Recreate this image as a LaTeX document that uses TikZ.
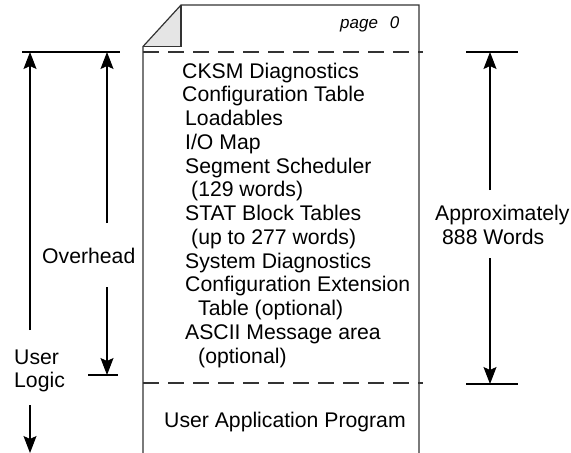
\documentclass[tikz,border=0pt]{standalone}
\usepackage{fontspec}
\setmainfont{Liberation Sans}
\usetikzlibrary{arrows.meta}
\begin{document}
\begin{tikzpicture}[x=1pt,y=-1pt,
  txt/.style={anchor=base west,inner sep=0pt,font=\fontsize{21.2}{23}\selectfont},
  pagetxt/.style={anchor=base west,inner sep=0pt,font=\fontsize{17}{20}\selectfont\itshape},
  edge/.style={line width=1.2pt,black!80},
  sepline/.style={line width=1.1pt,dash pattern=on 16pt off 9pt,black!80},
  tick/.style={line width=1.1pt},
  arr/.style={line width=1.1pt,-{Stealth[length=17pt,width=13pt,inset=3pt]}},
  bar/.style={line width=2.6pt}]
\useasboundingbox (0,0) rectangle (571,453);
% page outline
\coordinate (fa) at (181,5);
\coordinate (fb) at (181,46.5);
\coordinate (fc) at (143,46.5);
\coordinate (tr) at (419,5);
\coordinate (br) at (419,453);
\coordinate (bl) at (143,453);
\fill[black!10] (fa) -- (fb) -- (fc) -- cycle;
\draw[edge] (fa) -- (fb) -- (fc);
\draw[edge] (bl) -- (fc) -- (fa) -- (tr) -- (br);
% dashed separators
\coordinate (d1a) at (143,52);
\coordinate (d1b) at (423,52);
\coordinate (d2a) at (143,383);
\coordinate (d2b) at (423,383);
\draw[sepline] (d1a) -- (d1b);
\draw[sepline] (d2a) -- (d2b);
% page label
\node[pagetxt] (pg) at (340,28) {page\hspace{12pt}0};
% content
\node[txt] (l0) at (182,78) {CKSM Diagnostics};
\node[txt] (l1) at (182,101.75) {Configuration Table};
\node[txt] (l2) at (185,125.5) {Loadables};
\node[txt] (l3) at (185,149.25) {I/O Map};
\node[txt] (l4) at (185,173) {Segment Scheduler};
\node[txt] (l5) at (191,196.75) {(129 words)};
\node[txt] (l6) at (185,220.5) {STAT Block Tables};
\node[txt] (l7) at (191,244.25) {(up to 277 words)};
\node[txt] (l8) at (185,268) {System Diagnostics};
\node[txt] (l9) at (185,291.75) {Configuration Extension};
\node[txt] (l10) at (198,315.5) {Table (optional)};
\node[txt] (l11) at (185,339.25) {ASCII Message area};
\node[txt] (l12) at (198,363) {(optional)};
\node[txt] (uap) at (164,427) {User Application Program};
% left side
\coordinate (lt1) at (22,52);
\coordinate (lt2) at (120,52);
\draw[tick] (lt1) -- (lt2);
\node[txt] (ovh) at (42,263) {Overhead};
\node[txt] (usr) at (14,364) {User};
\node[txt] (lgc) at (14,387.5) {Logic};
\coordinate (ua1) at (30,330);
\coordinate (ua0) at (30,52);
\coordinate (ua2) at (30,405);
\coordinate (ua3) at (30,453);
\draw[arr] (ua1) -- (ua0);
\draw[arr] (ua2) -- (ua3);
\coordinate (oa1) at (107,223);
\coordinate (oa0) at (107,52);
\coordinate (oa2) at (107,287);
\coordinate (oa3) at (107,375);
\draw[arr] (oa1) -- (oa0);
\draw[arr] (oa2) -- (oa3);
\coordinate (ob1) at (88,375);
\coordinate (ob2) at (118,375);
\draw[bar] (ob1) -- (ob2);
% right side
\coordinate (rt1) at (466,52);
\coordinate (rt2) at (518,52);
\coordinate (rb1) at (466,384);
\coordinate (rb2) at (518,384);
\draw[tick] (rt1) -- (rt2);
\draw[tick] (rb1) -- (rb2);
\node[txt] (apx) at (435,220) {Approximately};
\node[txt] (wds) at (442,244) {888 Words};
\coordinate (ra1) at (490,190);
\coordinate (ra0) at (490,52);
\coordinate (ra2) at (490,258);
\coordinate (ra3) at (490,384);
\draw[arr] (ra1) -- (ra0);
\draw[arr] (ra2) -- (ra3);
\end{tikzpicture}
\end{document}
